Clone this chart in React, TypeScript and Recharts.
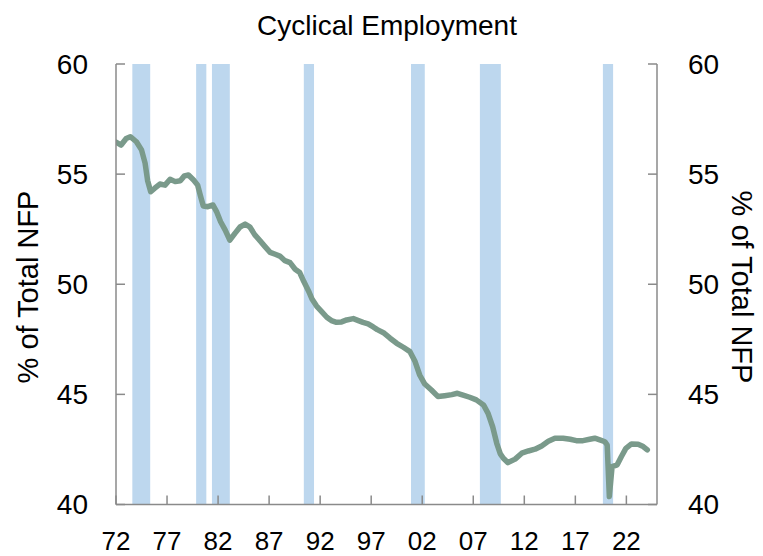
import { Line, LineChart, ReferenceArea, XAxis, YAxis } from 'recharts';

const years = [
  1972.0, 1972.5, 1973.0, 1973.4, 1974.0, 1974.5, 1974.85, 1975.1, 1975.4, 1975.8,
  1976.3, 1976.8, 1977.3, 1977.8, 1978.3, 1978.7, 1979.1, 1979.6, 1980.0, 1980.25,
  1980.55, 1981.0, 1981.5, 1981.85, 1982.25, 1982.7, 1983.15, 1983.65, 1984.15, 1984.65,
  1985.1, 1985.6, 1986.1, 1986.6, 1987.1, 1987.6, 1988.05, 1988.55, 1989.05, 1989.55,
  1990.0, 1990.4, 1990.85, 1991.2, 1991.65, 1992.15, 1992.65, 1993.1, 1993.6, 1994.1,
  1994.6, 1995.25, 1995.75, 1996.2, 1996.7, 1997.2, 1997.6, 1998.2, 1998.85, 1999.5,
  2000.15, 2000.8, 2001.3, 2001.75, 2002.25, 2002.9, 2003.55, 2004.2, 2004.9, 2005.45,
  2006.0, 2006.65, 2007.3, 2008.0, 2008.45, 2008.9, 2009.3, 2009.65, 2009.95, 2010.4,
  2011.1, 2011.75, 2012.4, 2013.05, 2013.7, 2014.35, 2015.0, 2015.8, 2016.5, 2017.1,
  2017.75, 2018.4, 2018.9, 2019.4, 2019.9, 2020.12, 2020.33, 2020.6, 2021.1, 2021.5,
  2021.95, 2022.5, 2023.15, 2023.65, 2024.05,
];

const cyclicalShare = [
  56.45, 56.32, 56.62, 56.7, 56.47, 56.1, 55.5, 54.7, 54.2, 54.36,
  54.55, 54.5, 54.77, 54.66, 54.7, 54.92, 54.96, 54.73, 54.5, 54.05,
  53.55, 53.52, 53.6, 53.3, 52.84, 52.46, 52.0, 52.31, 52.6, 52.73,
  52.61, 52.24, 51.98, 51.71, 51.45, 51.36, 51.28, 51.07, 50.98, 50.68,
  50.53, 50.12, 49.71, 49.33, 49.01, 48.76, 48.5, 48.35, 48.27, 48.29,
  48.38, 48.44, 48.35, 48.27, 48.2, 48.06, 47.94, 47.8, 47.55, 47.32,
  47.14, 46.94, 46.49, 45.88, 45.47, 45.2, 44.9, 44.94, 44.99, 45.05,
  44.97, 44.87, 44.75, 44.52, 44.14, 43.53, 42.78, 42.3, 42.1, 41.9,
  42.06, 42.33, 42.43, 42.51, 42.66, 42.87, 43.01, 43.01, 42.96, 42.9,
  42.9, 42.96, 43.01, 42.93, 42.85, 42.7, 40.36, 41.72, 41.8, 42.17,
  42.55, 42.75, 42.74, 42.63, 42.48,
];

// recession shading, as drawn (slightly wider than NBER dates)
const recessionStart = [1973.6, 1979.85, 1981.4, 1990.4, 2000.9, 2007.65, 2019.7];
const recessionEnd = [1975.35, 1980.85, 1983.15, 1991.4, 2002.25, 2009.7, 2020.7];

const xTicks = [1972, 1977, 1982, 1987, 1992, 1997, 2002, 2007, 2012, 2017, 2022];
const yTicks = [40, 45, 50, 55, 60];

const data = years.map((year, i) => ({ year, value: cyclicalShare[i] }));

const FONT = '"Liberation Sans", Arial, sans-serif';
const AXIS = '#8a8a8a';
const yTickStyle = { fill: '#000', fontSize: 28, fontFamily: FONT };
const xTickStyle = { fill: '#000', fontSize: 26, fontFamily: FONT };

const App = () => {
  return (
    <div style={{ position: 'absolute', left: 0, top: 0, width: 763, height: 556, background: '#fff' }}>
      <LineChart width={763} height={556} data={data} margin={{ top: 64, right: 0, bottom: 0, left: 0 }}>
        {recessionStart.map((start, i) => (
          <ReferenceArea
            key={start}
            yAxisId="left"
            x1={start}
            x2={recessionEnd[i]}
            y1={40}
            y2={60}
            fill="#bdd7ee"
            fillOpacity={1}
            stroke="none"
          />
        ))}
        <XAxis
          dataKey="year"
          type="number"
          domain={[1972, 2025]}
          ticks={xTicks}
          tickFormatter={(v: number) => String(v).slice(2)}
          interval={0}
          height={51.5}
          stroke={AXIS}
          strokeWidth={1.5}
          tickSize={-9}
          tickMargin={36}
          tick={xTickStyle}
          allowDataOverflow
        />
        <YAxis
          yAxisId="left"
          domain={[40, 60]}
          ticks={yTicks}
          width={116}
          stroke={AXIS}
          strokeWidth={1.5}
          tickSize={-9}
          tickMargin={37}
          tick={yTickStyle}
          allowDataOverflow
        />
        <YAxis
          yAxisId="right"
          orientation="right"
          domain={[40, 60]}
          ticks={yTicks}
          width={106}
          stroke={AXIS}
          strokeWidth={1.5}
          tickSize={-9}
          tickMargin={40}
          tick={yTickStyle}
          allowDataOverflow
        />
        <Line
          yAxisId="left"
          type="linear"
          dataKey="value"
          stroke="#7a9a8b"
          strokeWidth={5.5}
          strokeLinejoin="round"
          strokeLinecap="round"
          dot={false}
          isAnimationActive={false}
        />
        <Line
          yAxisId="right"
          type="linear"
          dataKey="value"
          stroke="none"
          dot={false}
          legendType="none"
          isAnimationActive={false}
        />
      </LineChart>
      <svg
        width={763}
        height={556}
        style={{ position: 'absolute', left: 0, top: 0, pointerEvents: 'none' }}
      >
        <text x={387} y={25} textAnchor="middle" dominantBaseline="central" fontSize={28} fontFamily={FONT} fill="#000">
          Cyclical Employment
        </text>
        <text
          x={28}
          y={287}
          transform="rotate(-90 28 287)"
          textAnchor="middle"
          dominantBaseline="central"
          fontSize={29}
          fontFamily={FONT}
          fill="#000"
        >
          % of Total NFP
        </text>
        <text
          x={742}
          y={287}
          transform="rotate(90 742 287)"
          textAnchor="middle"
          dominantBaseline="central"
          fontSize={29}
          fontFamily={FONT}
          fill="#000"
        >
          % of Total NFP
        </text>
      </svg>
    </div>
  );
};

export default App;
